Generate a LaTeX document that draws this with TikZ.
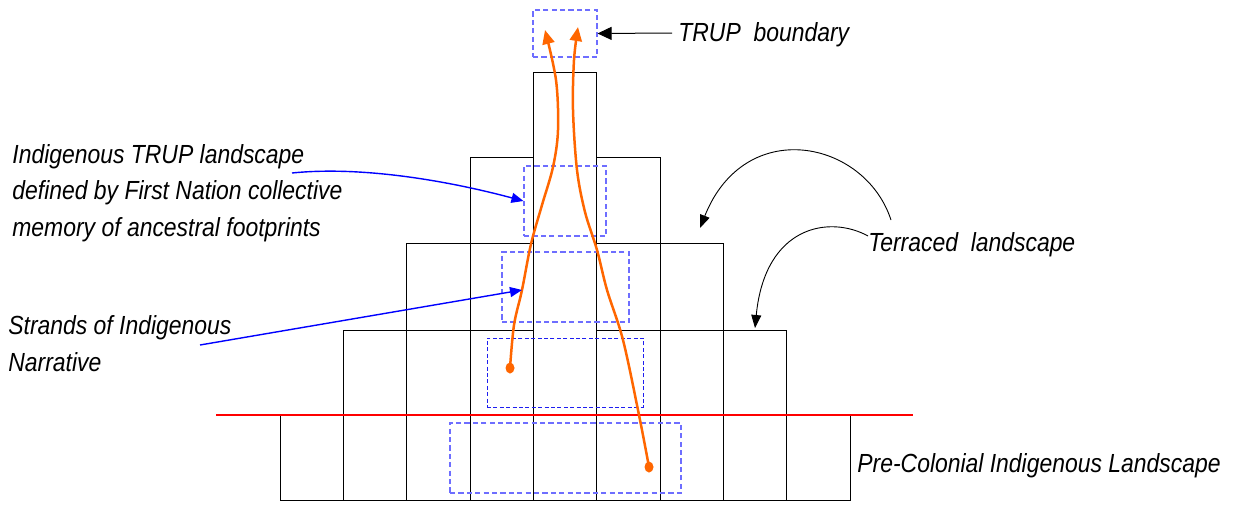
\documentclass[tikz,border=0pt]{standalone}
\usepackage{fontspec}
\setmainfont{Liberation Sans}
\newfontfamily\labfont[FakeStretch=0.875]{Liberation Sans}
\usetikzlibrary{arrows.meta}
\definecolor{strandorange}{RGB}{255,102,0}
\definecolor{lightdash}{RGB}{110,110,255}
\definecolor{darkdash}{RGB}{30,30,240}
\tikzset{
  cell/.style={draw=black, line width=0.5pt},
  dbox/.style={draw=lightdash, dash pattern=on 2.6pt off 1.6pt, line width=0.55pt, inner sep=0pt, fill=none},
  dboxdark/.style={draw=darkdash, dash pattern=on 2pt off 1.2pt, line width=0.5pt, inner sep=0pt, fill=none},
  lab/.style={inner sep=0pt, align=left, font=\labfont\itshape\fontsize{13.1}{18.25}\selectfont},
  blkarrow/.style={draw=black, line width=0.5pt, -{Triangle[length=7pt,width=6.5pt]}},
  curvearrow/.style={draw=black, line width=0.45pt, -{Triangle[length=6.5pt,width=5pt]}},
  bluearrow/.style={draw=blue, line width=0.7pt, -{Triangle[length=6pt,width=5pt]}},
  strand/.style={draw=strandorange, line width=1.25pt, -{Triangle[length=7pt,width=6pt]}},
}
\begin{document}
\begin{tikzpicture}[x=0.5pt, y=-0.5pt]
\useasboundingbox (0,0) rectangle (1241,504);
% terraced cells
\draw[cell] (533.33,72) rectangle (596.67,500);
\foreach \yt/\yb/\a/\b in {157/243/3/5, 243/330/2/6, 330/415/1/7, 415/500/0/8}{
  \foreach \i in {\a,...,\b}{
    \ifnum\i=4 \else
      \draw[cell] ({280+\i*63.333},\yt) rectangle ({280+(\i+1)*63.333},\yb);
    \fi
  }
}
% ground line
\draw[red, line width=0.6pt] (216,415) -- (913,415);
% dashed boundaries
\node[dbox, minimum width=32pt, minimum height=23.5pt] (trupbox) at (565,33.5) {};
\node[dbox, minimum width=41pt, minimum height=35pt] (box4) at (565,201) {};
\node[dbox, minimum width=63.5pt, minimum height=35pt] (box3) at (565.5,287) {};
\node[dboxdark, minimum width=78pt, minimum height=34.5pt] (box2) at (565,372.5) {};
\node[dbox, minimum width=115.5pt, minimum height=35pt] (box1) at (565.5,458) {};
% strands
\draw[strand] plot[smooth, tension=0.55] coordinates {(510,368) (514,325) (522,290) (531,244) (542,205) (553,167) (558,130) (556,80) (545,30)};
\draw[strand] plot[smooth, tension=0.55] coordinates {(649,467) (639,415) (623,340) (607,290) (597,250) (585,212) (577,170) (573,110) (574,60) (578,27)};
\fill[strandorange] (510,368) ellipse [x radius=4.5, y radius=5.5];
\fill[strandorange] (649,467) ellipse [x radius=4.5, y radius=5.5];
% labels (base anchor of a multi-line node is its last line)
\node[lab, anchor=base west] (trup) at (678,41) {TRUP\ \ boundary};
\node[lab, anchor=base west] (indig) at (12,236) {Indigenous TRUP landscape\\defined by First Nation collective\\memory of ancestral footprints};
\node[lab, anchor=base west] (strands) at (8,371) {Strands of Indigenous\\Narrative};
\node[lab, anchor=base west] (terr) at (868,251) {Terraced\ \ landscape};
\node[lab, anchor=base west] (pre) at (857,472) {Pre-Colonial Indigenous Landscape};
% connectors
\coordinate (trupstart) at (672,33);
\draw[blkarrow] (trupstart) -- (trupbox.east);
\coordinate (indigstart) at (292,173);
\draw[bluearrow] (indigstart) .. controls (360,166) and (445,180) .. (box4.west);
\coordinate (strandsstart) at (200,345);
\coordinate (strandpt) at (522,290);
\draw[bluearrow] (strandsstart) -- (strandpt);
\coordinate (terrA) at (891,220);
\coordinate (terrB) at (868,236);
\coordinate (tipA) at (700,228);
\coordinate (tipB) at (755,328);
\draw[curvearrow] (terrA) .. controls (865,140) and (745,115) .. (tipA);
\draw[curvearrow] (terrB) .. controls (830,215) and (765,225) .. (tipB);
\end{tikzpicture}
\end{document}
